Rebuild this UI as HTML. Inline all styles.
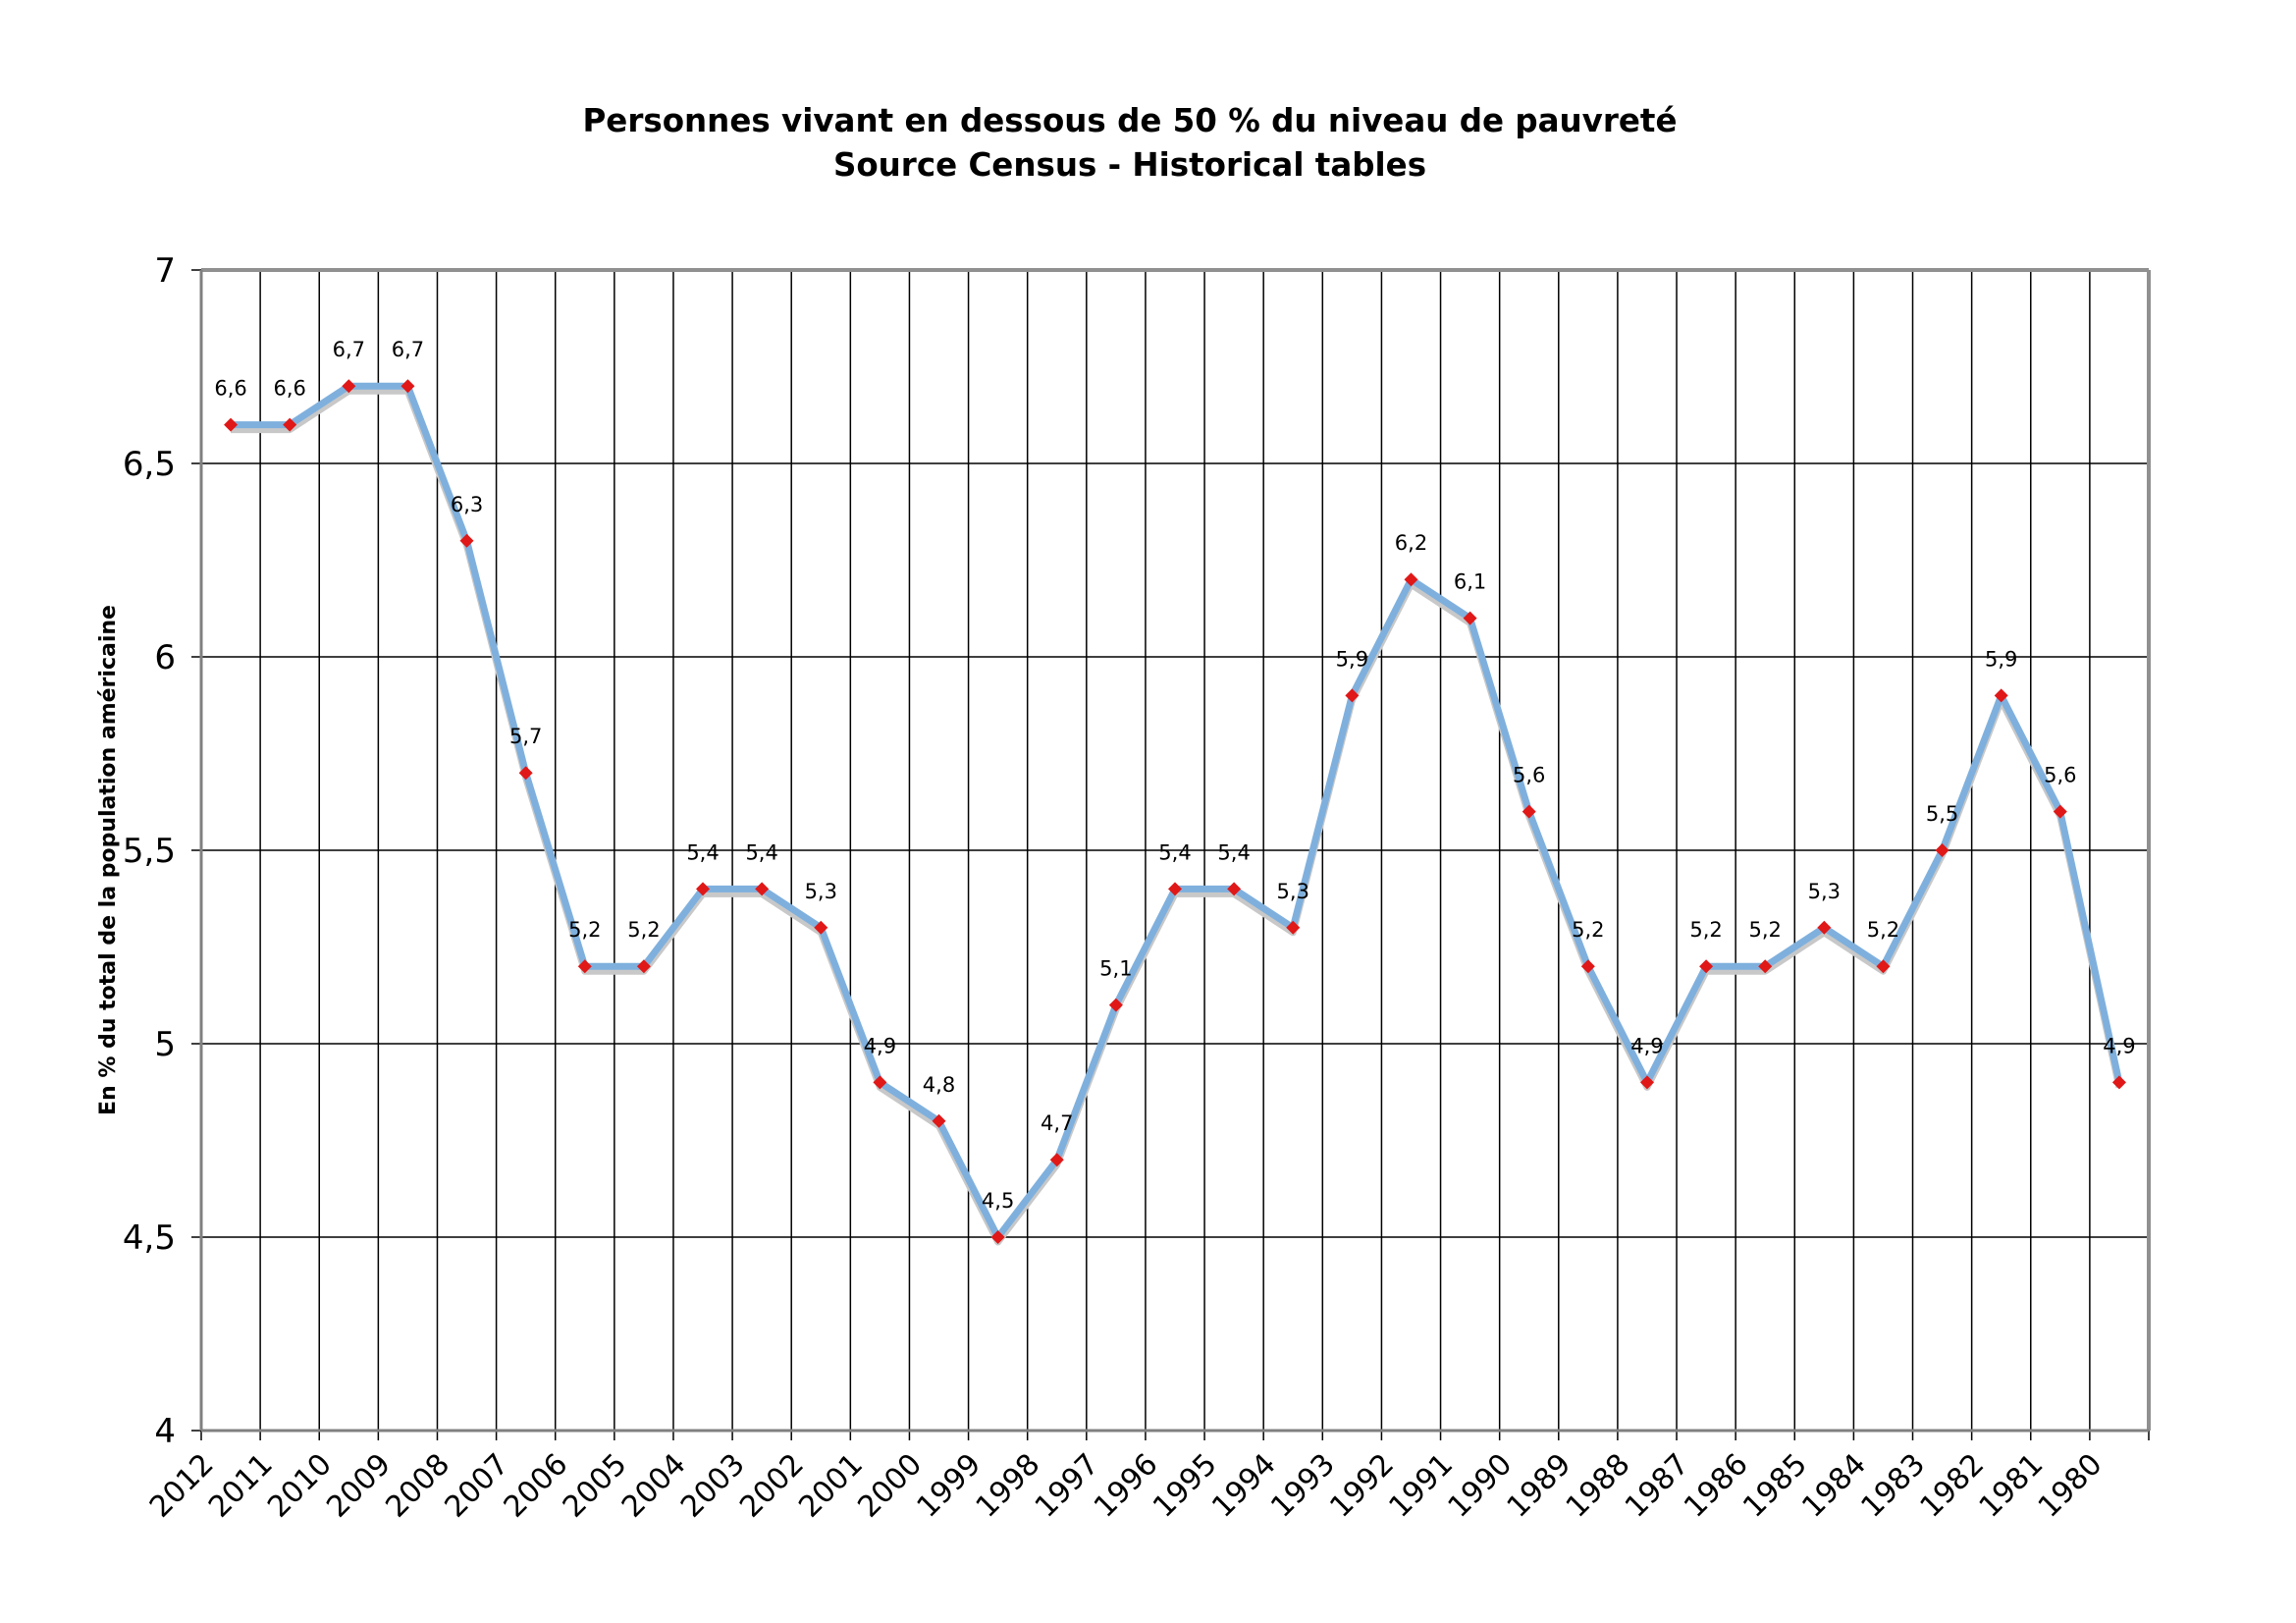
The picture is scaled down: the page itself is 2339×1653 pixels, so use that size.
<!DOCTYPE html>
<html><head><meta charset="utf-8"><style>html,body{margin:0;padding:0;background:#fff;}svg{display:block;}</style></head>
<body>
<svg width="2339" height="1653" viewBox="0 0 2339 1653" xmlns="http://www.w3.org/2000/svg" font-family="'DejaVu Sans','Liberation Sans',sans-serif">
<text x="1151" y="134" font-size="32.5" font-weight="bold" text-anchor="middle">Personnes vivant en dessous de 50 % du niveau de pauvreté</text>
<text x="1151" y="179" font-size="32.5" font-weight="bold" text-anchor="middle">Source Census - Historical tables</text>
<text transform="translate(117,876) rotate(-90)" font-size="22" font-weight="bold" text-anchor="middle">En % du total de la population américaine</text>
<g id="grid" stroke="#000" stroke-width="1.5"></g>
<g id="lbl"></g>
<g id="ser"></g>
</svg>
<script>
const NS="http://www.w3.org/2000/svg";
function el(p,t,a,txt){const e=document.createElementNS(NS,t);for(const k in a)e.setAttribute(k,a[k]);if(txt!==undefined)e.textContent=txt;p.appendChild(e);return e;}
const L=205,T=275,R=2189,B=1457,W=(R-L)/33;
const Y=v=>B-(v-4)*394;
const g=document.getElementById('grid'),lb=document.getElementById('lbl'),s=document.getElementById('ser');
for(let i=1;i<33;i++){const x=L+W*i;el(g,'line',{x1:x,y1:T,x2:x,y2:B});}
for(let i=0;i<=33;i++){const x=L+W*i;el(g,'line',{x1:x,y1:B,x2:x,y2:B+10});
 if(i<33)el(lb,'text',{transform:`translate(${x+14},${B+36}) rotate(-45)`,'font-size':30,'text-anchor':'end'},String(2012-i));}
const yl=['4','4,5','5','5,5','6','6,5','7'];
for(let j=0;j<7;j++){const y=B-j*197;el(g,'line',{x1:L-10,y1:y,x2:R,y2:y});
 el(lb,'text',{x:179,y:y+12,'font-size':34,'text-anchor':'end'},yl[j]);}
el(g,'line',{x1:L,y1:T,x2:R,y2:T,stroke:'#909090','stroke-width':4});
el(g,'line',{x1:R,y1:T,x2:R,y2:B,stroke:'#909090','stroke-width':4});
el(g,'line',{x1:L,y1:T,x2:L,y2:B,stroke:'#808080','stroke-width':3});
el(g,'line',{x1:L,y1:B,x2:R,y2:B,stroke:'#808080','stroke-width':3});
const d=[6.6,6.6,6.7,6.7,6.3,5.7,5.2,5.2,5.4,5.4,5.3,4.9,4.8,4.5,4.7,5.1,5.4,5.4,5.3,5.9,6.2,6.1,5.6,5.2,4.9,5.2,5.2,5.3,5.2,5.5,5.9,5.6,4.9];
const pts=d.map((v,i)=>[L+W*(i+0.5),Y(v)]);
el(s,'polyline',{points:pts.map(p=>p[0]+','+(p[1]+5)).join(' '),fill:'none',stroke:'#c8c8c8','stroke-width':7,'stroke-linejoin':'round'});
el(s,'polyline',{points:pts.map(p=>p.join(',')).join(' '),fill:'none',stroke:'#7fb0dd','stroke-width':7,'stroke-linejoin':'round'});
pts.forEach((p,i)=>{const [x,y]=p;
 el(s,'polygon',{points:`${x},${y-7} ${x+7},${y} ${x},${y+7} ${x-7},${y}`,fill:'#e01818'});
 el(s,'text',{x:x,y:y-30,'font-size':21,'text-anchor':'middle'},String(d[i]).replace('.',','));});
</script>
</body></html>
